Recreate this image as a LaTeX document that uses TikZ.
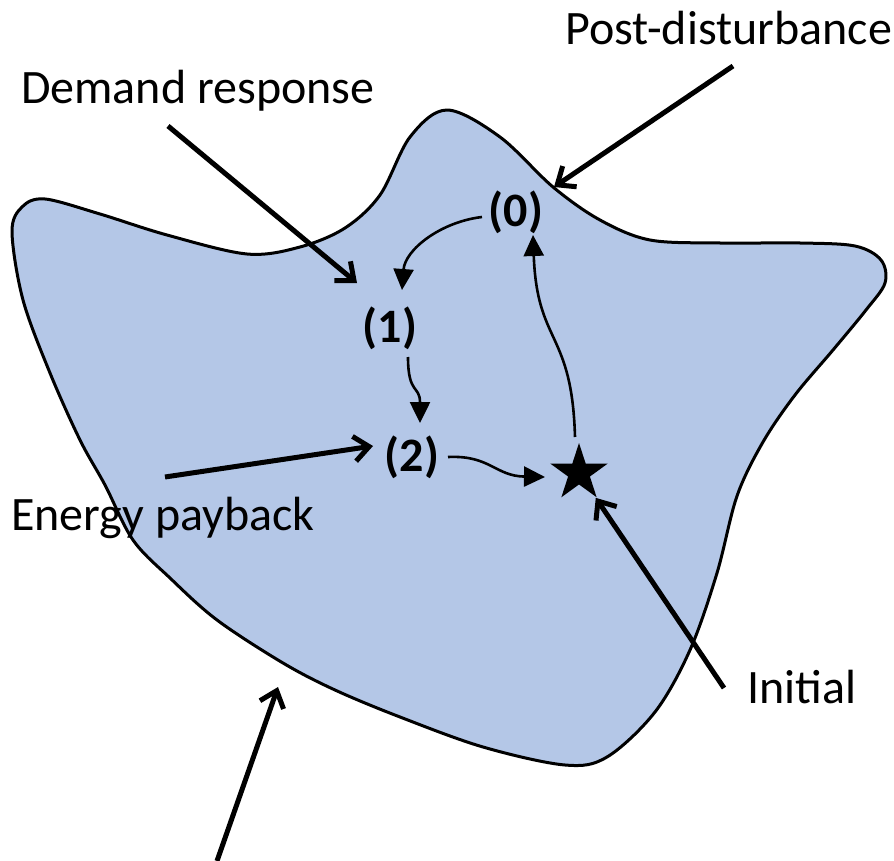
\documentclass[tikz,border=0pt]{standalone}
\usepackage{fontspec}
\setmainfont{Carlito}
\usetikzlibrary{arrows.meta,shapes.geometric,calc}
\definecolor{blobfill}{HTML}{B4C7E7}
\tikzset{
  blob/.style={draw=black, line width=3pt, fill=blobfill, line join=round},
  bigtext/.style={anchor=base west, inner sep=0pt, font=\fontsize{48}{54}\selectfont},
  steplabel/.style={inner sep=0pt, font=\fontsize{48}{54}\selectfont\bfseries},
  thinarrow/.style={line width=2.6pt, -{Triangle[length=21pt,width=20pt]}},
  thickarrow/.style={line width=5pt, -{Straight Barb[length=15pt,width=25pt]}},
}
\begin{document}
\begin{tikzpicture}[x=1pt,y=-1pt]
\useasboundingbox (0,0) rectangle (894,861);
% region
\draw[blob] plot[smooth cycle, tension=0.55] coordinates {
 (12,232) (22,207) (45,199) (100,214) (167,235) (247,254) (300,247) (345,228)
 (380,195) (410,137) (447,110) (500,137) (553,187) (600,220) (650,240) (720,243)
 (800,243) (855,246) (881,260) (885,283) (866,310) (833,350) (795,395) (763,442)
 (737,496) (717,573) (690,650) (655,712) (607,757) (565,765) (483,747) (400,717)
 (335,690) (283,663) (217,620) (170,578) (133,540) (105,485) (80,440) (50,373) (23,300)};

% labels
\node[bigtext] (post) at (565,45) {Post-disturbance};
\node[bigtext] (dem) at (21,104) {Demand response};
\node[bigtext] (ene) at (11,530) {Energy payback};
\node[bigtext] (ini) at (747,703) {Initial};

\node[steplabel] (s0) at (516,212) {(0)};
\node[steplabel] (s1) at (390,328) {(1)};
\node[steplabel] (s2) at (412,457) {(2)};
\node[star, star points=5, star point ratio=2.618, fill=black, inner sep=0pt, minimum size=60pt] (st) at (579,473) {};

% free ends of the pointer arrows
\coordinate (demA) at (168,126);
\coordinate (demB) at (357,283);
\coordinate (postA) at (733,66);
\coordinate (postB) at (554,187);
\coordinate (eneA) at (165,477);
\coordinate (eneB) at (373,446);
\coordinate (iniA) at (724,688);
\coordinate (botA) at (217,861);
\coordinate (botB) at (278,687);

% pointer arrows
\draw[thickarrow] (demA) -- (demB);
\draw[thickarrow] (postA) -- (postB);
\draw[thickarrow] (eneA) -- (eneB);
\draw[thickarrow, shorten >=30pt] (iniA) -- (st.center);
\draw[thickarrow] (botA) -- (botB);

% trajectory
\draw[thinarrow] ($(s0)+(-34,5)$) .. controls +(-42,5) and +(3,-40) .. ($(s1)+(12,-38)$);
\draw[thinarrow] ($(s1)+(18,29)$) .. controls +(0,38) and +(0,-38) .. ($(s2)+(8,-34)$);
\draw[thinarrow] ($(s2)+(36,0)$) .. controls +(42,-2) and +(-50,-1) .. ($(st)+(-34,4)$);
\draw[thinarrow] ($(st)+(-4,-36)$) .. controls +(-3,-107) and +(4,110) .. ($(s0)+(17,23)$);
\end{tikzpicture}
\end{document}
